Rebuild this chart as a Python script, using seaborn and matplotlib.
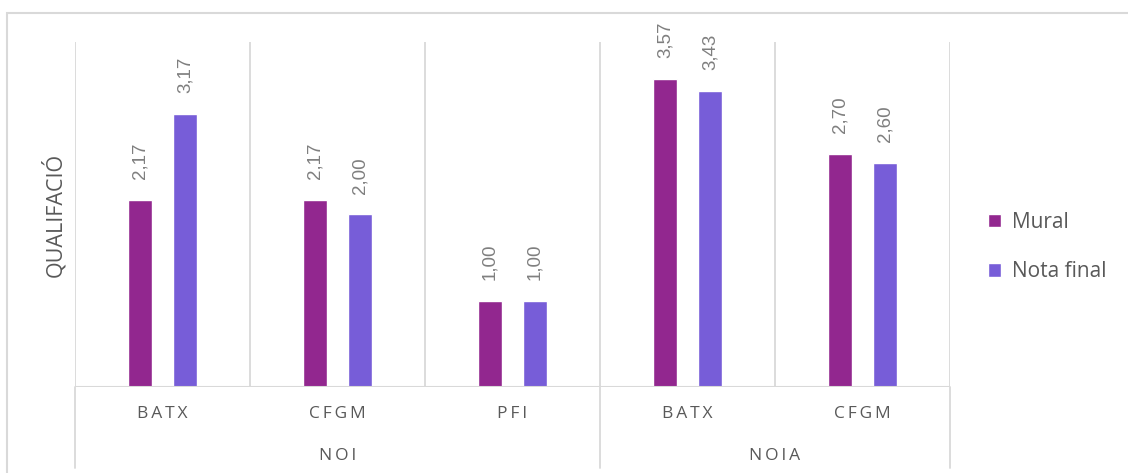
import seaborn as sns
import matplotlib.pyplot as plt
import matplotlib.transforms as mtransforms
from matplotlib.patches import Rectangle
import pandas as pd

# chart values
groups = ['NOI', 'NOI', 'NOI', 'NOIA', 'NOIA']
courses = ['BATX', 'CFGM', 'PFI', 'BATX', 'CFGM']
mural = [2.17, 2.17, 1.00, 3.57, 2.70]
nota_final = [3.17, 2.00, 1.00, 3.43, 2.60]
series = ['Mural', 'Nota final']
colors = ['#92278F', '#775DD8']

keys = [g + ' ' + c for g, c in zip(groups, courses)]
data = pd.DataFrame({
    'cat': keys * 2,
    'serie': [series[0]] * len(keys) + [series[1]] * len(keys),
    'valor': mural + nota_final,
})

sns.set_style('white')
plt.rcParams['font.family'] = ['Open Sans', 'DejaVu Sans']

fig = plt.figure(figsize=(11.28, 4.73), dpi=100)
ax = fig.add_axes([75 / 1128, 1 - 387 / 473, 875 / 1128, 345 / 473])

sns.barplot(data=data, x='cat', y='valor', hue='serie', order=keys,
            palette=colors, width=0.514, gap=0.467, ax=ax, saturation=1)

ax.set_ylim(0, 4)
ax.set_xlim(-0.5, len(keys) - 0.5)
for s in ax.spines.values():
    s.set_visible(False)
ax.set_yticks([])
ax.set_xticks([])
ax.set_xlabel('')
ax.set_ylabel('QUALIFACIÓ', fontsize=15.5, color='#595959', labelpad=6)

grid = '#D9D9D9'
# vertical separators inside the plot
for i in range(len(keys) + 1):
    ax.axvline(i - 0.5, ymin=0, ymax=1, color=grid, lw=1.3, zorder=0)
ax.axhline(0, color=grid, lw=1.5, zorder=3)

# multi-level category axis
trans = mtransforms.blended_transform_factory(ax.transData, ax.transAxes)
bounds = [-0.5]
for i in range(1, len(groups)):
    if groups[i] != groups[i - 1]:
        bounds.append(i - 0.5)
bounds.append(len(groups) - 0.5)
for b in bounds:
    ax.plot([b, b], [0, -0.235], color=grid, lw=1.3, transform=trans, clip_on=False)

spaced = lambda t: '\u2009'.join(t)
for i, c in enumerate(courses):
    ax.text(i, -0.078, spaced(c), transform=trans, ha='center', va='center',
            fontsize=12.5, color='#595959')
for a, b in zip(bounds[:-1], bounds[1:]):
    ax.text((a + b) / 2, -0.2, spaced(groups[int(a + 0.5)]), transform=trans,
            ha='center', va='center', fontsize=12.5, color='#595959')

# data labels
for cont in ax.containers:
    for bar in cont:
        h = bar.get_height()
        ax.annotate(f'{h:.2f}'.replace('.', ','),
                    (bar.get_x() + bar.get_width() / 2, h),
                    xytext=(0, 15), textcoords='offset points',
                    rotation=90, ha='center', va='bottom',
                    fontsize=13.5, color='#7F7F7F', family='Liberation Sans',
                    annotation_clip=False)

# legend
handles, labels = ax.get_legend_handles_labels()
ax.legend(handles, labels, loc='center left', bbox_to_anchor=(1.022, 0.405),
          frameon=False, fontsize=15, labelcolor='#595959',
          handlelength=0.6, handleheight=0.6, handletextpad=0.55,
          labelspacing=1.35)

# outer chart frame
fig.patches.append(Rectangle((7 / 1128, -0.1), 1.2, 1 - 13 / 473 + 0.1,
                             transform=fig.transFigure, fill=False,
                             edgecolor='#D9D9D9', lw=1.5))

fig.savefig('out.png', dpi=100)
